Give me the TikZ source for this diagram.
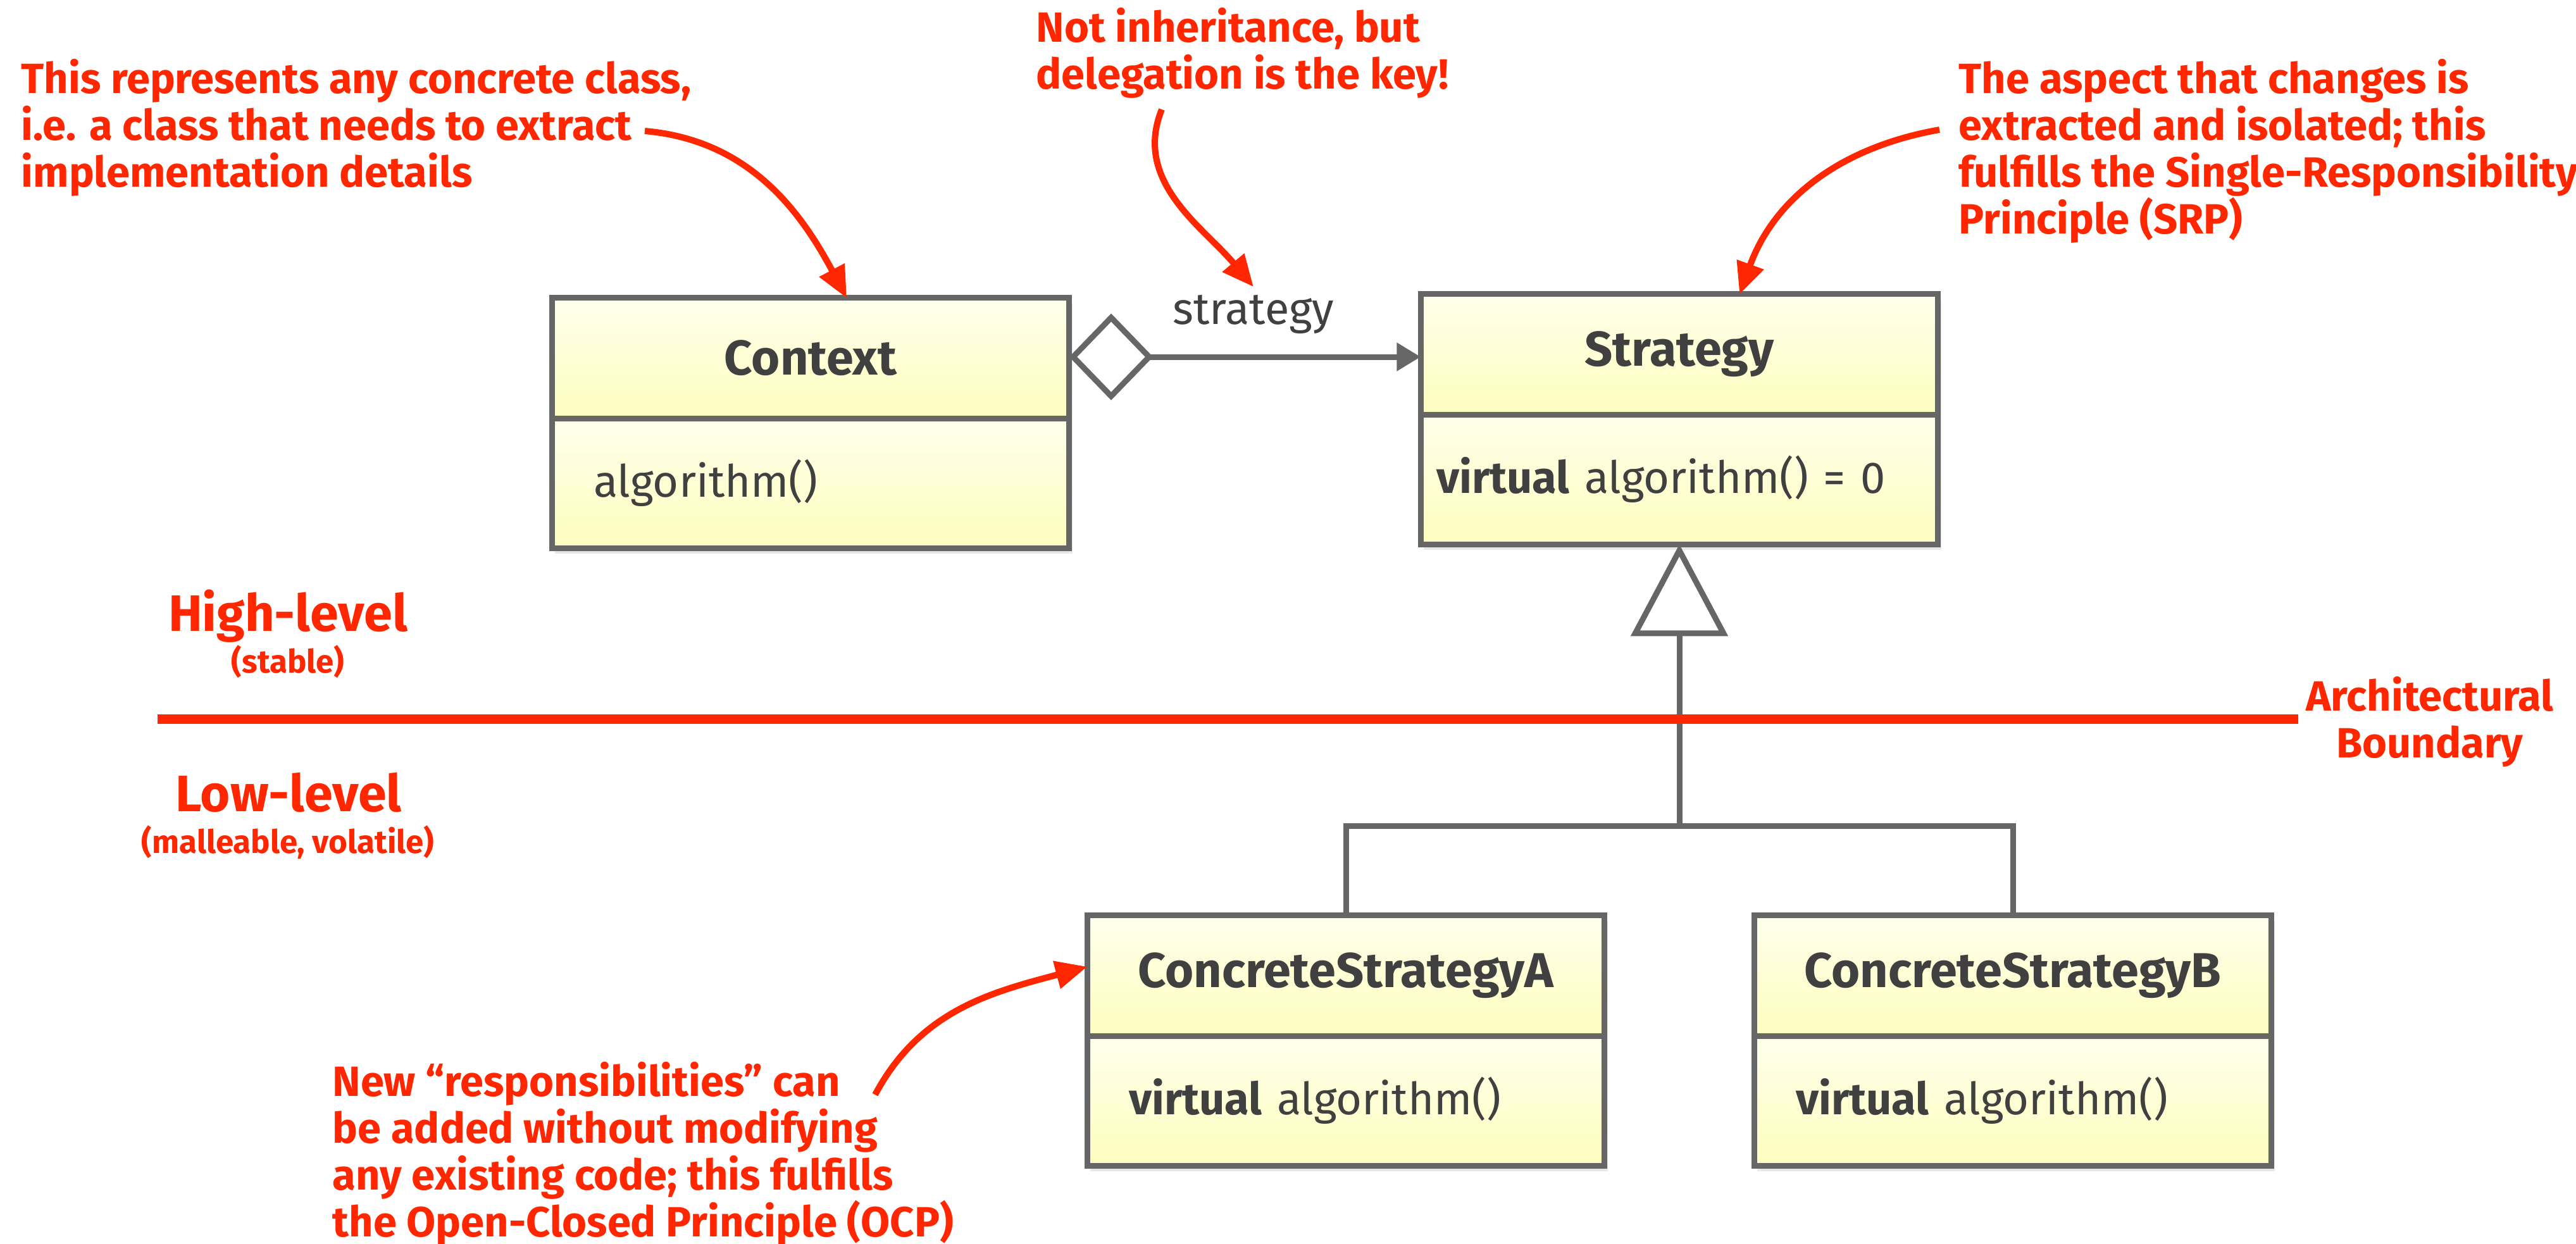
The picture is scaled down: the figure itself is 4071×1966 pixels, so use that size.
\documentclass[tikz,border=0pt]{standalone}
\usepackage{fontspec}
\setmainfont{Fira Sans}
\usetikzlibrary{arrows.meta,shapes.geometric,shadows}

\definecolor{notered}{RGB}{255,38,0}
\definecolor{umlgray}{RGB}{102,102,102}
\definecolor{umltext}{RGB}{64,64,64}
\definecolor{boxtop}{RGB}{255,255,236}
\definecolor{boxbot}{RGB}{253,253,190}

\begin{document}
\begin{tikzpicture}[x=0.01cm, y=-0.01cm]
    \tikzstyle{class head} = [draw=umlgray, line width=0.09cm, outer sep=0pt, minimum width=8.17cm, minimum height=1.9cm, top color=boxtop, bottom color=boxbot, text=umltext, font=\fontsize{22}{26}\selectfont\bfseries, drop shadow={shadow xshift=0.05cm, shadow yshift=-0.09cm, opacity=0.18}]
    \tikzstyle{class body} = [class head, anchor=north, minimum height=2.05cm, text width=6.85cm, inner xsep=0.66cm, align=left, font=\fontsize{20}{24}\selectfont]
    \tikzstyle{uml line} = [draw=umlgray, line width=0.09cm]
    \tikzstyle{note} = [text=notered, font=\fontsize{19}{21}\selectfont\bfseries, align=left]
    \tikzstyle{note arrow} = [draw=notered, line width=0.1cm, -{Triangle[length=0.5cm, width=0.43cm]}]
    \tikzstyle{level} = [text=notered, anchor=base, font=\fontsize{23}{26}\selectfont\bfseries]
    \tikzstyle{level sub} = [text=notered, anchor=base, font=\fontsize{14.5}{17}\selectfont\bfseries]

    \useasboundingbox (0,0) rectangle (4071,1966);

      % classes
      \node[class head] (ctx)  at (1281,566)  {Context};
      \node[class body] (ctxb) at (ctx.south) {algorithm()};
      \node[class head] (str)  at (2654,560)  {Strategy};
      \node[class body, inner xsep=0.25cm, text width=7.67cm] (strb) at (str.south) {\textbf{virtual} algorithm() = 0};
      \node[class head] (csa)  at (2127,1542) {ConcreteStrategyA};
      \node[class body] (csab) at (csa.south) {\textbf{virtual} algorithm()};
      \node[class head] (csb)  at (3181,1542) {ConcreteStrategyB};
      \node[class body] (csbb) at (csb.south) {\textbf{virtual} algorithm()};

      % aggregation
      \node[diamond, uml line, fill=white, inner sep=0pt, outer sep=0pt, minimum width=1.2cm, minimum height=1.24cm] (dia) at (1756,564) {};
      \draw[uml line, -{Triangle[length=0.38cm, width=0.43cm]}] (dia.east) -- (dia.east -| str.west);
      \node[anchor=base, text=umltext, font=\fontsize{20}{24}\selectfont] (lbl) at (1981,512) {strategy};

      % generalization
      \coordinate (j) at (2654,1305);
      \draw[uml line] (csa.north) |- (j) -| (csb.north);
      \draw[uml line, -{Triangle[open, fill=white, length=1.45cm, width=1.52cm]}] (j) -- (strb.south);

      % boundary (base = last line)
      \coordinate (bl) at (249,1136);
      \node[note, align=center, anchor=base] (bnd) at (3840,1197) {Architectural\\Boundary};
      \draw[draw=notered, line width=0.15cm] (bl) -- (bl -| bnd.west);

      \node[level] (hl) at (455,997) {High-level};
      \node[level sub] (hls) at (455,1063) {(stable)};
      \node[level] (ll) at (456,1282) {Low-level};
      \node[level sub] (lls) at (455,1348) {(malleable, volatile)};

      % notes, placed by the baseline of their last line
      \node[note, anchor=base west, inner sep=0pt] (na) at (33,295) {This represents any concrete class,\\i.e. a class that needs to extract\\implementation details};
      \node[note, anchor=base west, inner sep=0pt] (nb) at (1637,140) {Not inheritance, but\\delegation is the key!};
      \node[note, anchor=base west, inner sep=0pt] (nc) at (3095,369) {The aspect that changes is\\extracted and isolated; this\\fulfills the Single-Responsibility\\Principle (SRP)};
      \node[note, anchor=base west, inner sep=0pt] (nd) at (525,1954) {New “responsibilities” can\\be added without modifying\\any existing code; this fulfills\\the Open-Closed Principle (OCP)};

      \coordinate (a1) at (1019,207);
      \coordinate (b1) at (1836,173);
      \coordinate (c1) at (3065,205);
      \coordinate (d1) at (1383,1730);
      \draw[note arrow] (a1) to[out=-5, in=118] (ctx.59);
      \draw[note arrow] (b1) to[out=-112, in=130] (lbl.north);
      \draw[note arrow] (c1) to[out=190, in=70] (str.45);
      \draw[note arrow] (d1) to[out=62, in=195] (csa.178);
    \end{tikzpicture}
\end{document}
